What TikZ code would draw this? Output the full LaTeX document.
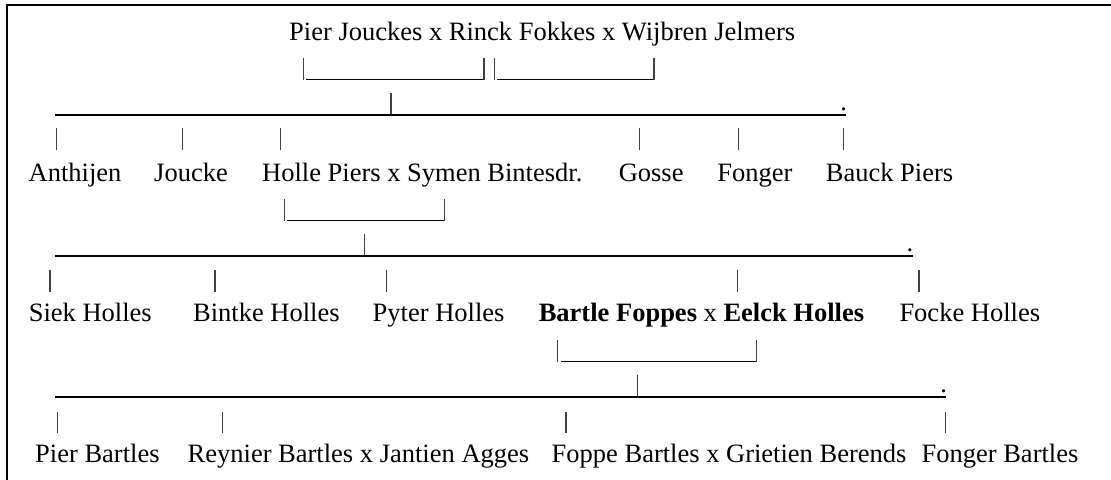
\documentclass[tikz,border=0pt]{standalone}
\usepackage{fontspec}
\setmainfont{Liberation Serif}
\begin{document}
\begin{tikzpicture}[x=1bp,y=-1bp,
  lbl/.style={anchor=base west,inner sep=0pt,font=\fontsize{26.5bp}{30bp}\selectfont},
  dotlbl/.style={anchor=base,inner sep=0pt,font=\fontsize{26.5bp}{30bp}\selectfont},
  uline/.style={line width=1.9bp,black},
  vbar/.style={line width=1.2bp,black!75},
  frame/.style={line width=2bp,black}]
\useasboundingbox (0,0) rectangle (1111,480);
% frame (top and left only)
\draw[frame] (7,5) -- (1111,5);
\draw[frame] (7,4) -- (7,480);

% generation 1
\node[lbl] (g1) at (289,41) {Pier Jouckes x Rinck Fokkes x Wijbren Jelmers};
\draw[vbar] (303.5,58) -- (303.5,80);
\draw[uline] (306,79.5) -- (484,79.5);
\draw[vbar] (484,58) -- (484,80);
\draw[vbar] (494.5,58) -- (494.5,80);
\draw[uline] (497,79.5) -- (654,79.5);
\draw[vbar] (654,58) -- (654,80);
\draw[vbar] (391,93) -- (391,115);
\draw[uline] (55.4,115) -- (846.4,115);
\node[dotlbl] (d1) at (843.6,111) {.};

% generation 2
\foreach \x in {56.5,182.2,280.6,639.3,738.2,843.6}
  \draw[vbar] (\x,128.5) -- (\x,150.5);
\node[lbl] (a1) at (28.5,181.7) {Anthijen};
\node[lbl] (a2) at (154,181.7) {Joucke};
\node[lbl] (a3) at (262,181.7) {Holle Piers x Symen Bintesdr.};
\node[lbl] (a4) at (618.6,181.7) {Gosse};
\node[lbl] (a5) at (717.1,181.7) {Fonger};
\node[lbl] (a6) at (825.7,181.7) {Bauck Piers};
\draw[vbar] (284.3,199) -- (284.3,221);
\draw[uline] (287,220.5) -- (444.6,220.5);
\draw[vbar] (444.6,199) -- (444.6,221);
\draw[vbar] (364.3,234) -- (364.3,255.7);
\draw[uline] (55.4,255.7) -- (912.5,255.7);
\node[dotlbl] (d2) at (910,252) {.};

% generation 3
\foreach \x in {50,215,386.4,737.5,919}
  \draw[vbar] (\x,270) -- (\x,292);
\node[lbl] (b1) at (28.6,321.7) {Siek Holles};
\node[lbl] (b2) at (192.9,321.7) {Bintke Holles};
\node[lbl] (b3) at (372.5,321.7) {Pyter Holles};
\node[lbl] (b4) at (538.6,321.7) {\textbf{Bartle Foppes} x \textbf{Eelck Holles}};
\node[lbl] (b5) at (899.3,321.7) {Focke Holles};
\draw[vbar] (557.5,340) -- (557.5,362);
\draw[uline] (560.7,361.5) -- (757,361.5);
\draw[vbar] (756.4,340) -- (756.4,362);
\draw[vbar] (637.5,375) -- (637.5,396.7);
\draw[uline] (55.4,396.7) -- (946.4,396.7);
\node[dotlbl] (d3) at (943.6,392) {.};

% generation 4
\foreach \x in {57.1,222.1,566,945.7}
  \draw[vbar] (\x,411.7) -- (\x,432.7);
\node[lbl] (c1) at (35,462.7) {Pier Bartles};
\node[lbl] (c2) at (187.5,462.7) {Reynier Bartles x Jantien Agges};
\node[lbl] (c3) at (551.5,462.7) {Foppe Bartles x Grietien Berends};
\node[lbl] (c4) at (921.4,462.7) {Fonger Bartles};
\end{tikzpicture}
\end{document}
